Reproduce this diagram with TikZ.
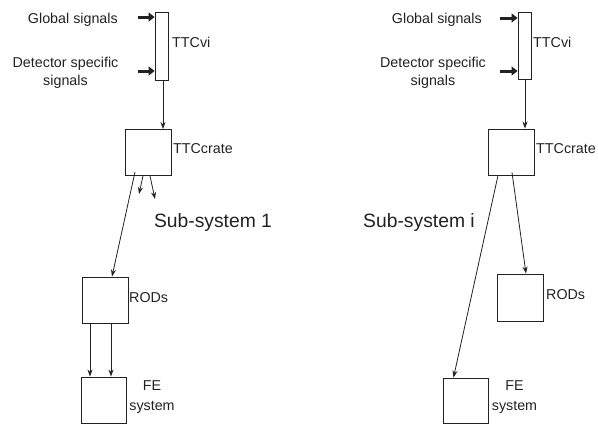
\documentclass[tikz,border=0pt]{standalone}
\usepackage{fontspec}
\setmainfont{Liberation Sans}
\usetikzlibrary{arrows.meta}
\definecolor{ink}{HTML}{222222}
\begin{document}
\begin{tikzpicture}[x=1pt,y=-1pt,color=ink,
  box/.style={draw,line width=0.9pt,inner sep=0pt,minimum width=46pt,minimum height=46pt},
  tallbox/.style={draw,line width=0.9pt,inner sep=0pt,minimum width=13pt,minimum height=68pt},
  lbl/.style={inner sep=0pt,font=\fontsize{14.3}{18}\selectfont},
  big/.style={inner sep=0pt,font=\fontsize{19.3}{23}\selectfont},
  conn/.style={line width=0.8pt,-{Stealth[length=7pt,width=5pt]}},
  inarrow/.style={line width=3pt,-{Triangle[length=6pt,width=9pt]}}]
\useasboundingbox (0,0) rectangle (598,424);

% ---------------- left sub-system ----------------
\node[tallbox] (ttcviL) at (161.5,46) {};
\node[box] (crateL) at (148,152.5) {};
\node[box] (rodsL) at (105,300) {};
\node[box,minimum width=45pt] (feL) at (103.5,400) {};

\node[lbl,anchor=east] (gsL) at (118,20) {Global signals};
\node[lbl,align=center] (dsL) at (65.5,73) {Detector specific\\signals};
\node[lbl,anchor=west] (tvL) at (172,42) {TTCvi};
\node[lbl,anchor=west] (tcL) at (173,149) {TTCcrate};
\node[lbl,anchor=west] (rdL) at (129,298) {RODs};
\node[lbl,align=center,font=\fontsize{14.3}{20}\selectfont] (fsL) at (152,397) {FE\\system};
\node[big] (ssL) at (213,223) {Sub-system 1};

\coordinate (gsinL) at (138,17);
\coordinate (dsinL) at (138,71);
\draw[inarrow] (gsinL) -- (gsinL -| ttcviL.west);
\draw[inarrow] (dsinL) -- (dsinL -| ttcviL.west);

\draw[conn] ([xshift=1.5pt]ttcviL.south) -- ([xshift=1.5pt]ttcviL.south |- crateL.north);
\coordinate (outL1) at (139,194);
\coordinate (outL2) at (155,199);
\draw[conn] ([xshift=-5pt]crateL.south) -- (outL1);
\draw[conn] ([xshift=2pt]crateL.south) -- (outL2);
\draw[conn] ([xshift=-13pt,yshift=4pt]crateL.south) -- ([xshift=7pt]rodsL.north);
\draw[conn] ([xshift=-15pt]rodsL.south) -- ([xshift=-15pt]rodsL.south |- feL.north);
\draw[conn] ([xshift=6pt]rodsL.south) -- ([xshift=6pt]rodsL.south |- feL.north);

% ---------------- right sub-system ----------------
\node[tallbox,minimum height=67pt] (ttcviR) at (524.5,45.5) {};
\node[box] (crateR) at (511,152) {};
\node[box,minimum height=47pt] (rodsR) at (520,297.5) {};
\node[box,minimum width=45pt,minimum height=45pt] (feR) at (465.5,400.5) {};

\node[lbl,anchor=east] (gsR) at (482,20) {Global signals};
\node[lbl,align=center] (dsR) at (433,73) {Detector specific\\signals};
\node[lbl,anchor=west] (tvR) at (533,42) {TTCvi};
\node[lbl,anchor=west] (tcR) at (536,149) {TTCcrate};
\node[lbl,anchor=west] (rdR) at (546,295) {RODs};
\node[lbl,align=center,font=\fontsize{14.3}{20}\selectfont] (fsR) at (514.5,397) {FE\\system};
\node[big] (ssR) at (419,223) {Sub-system i};

\coordinate (gsinR) at (500,18);
\coordinate (dsinR) at (500,71);
\draw[inarrow] (gsinR) -- (gsinR -| ttcviR.west);
\draw[inarrow] (dsinR) -- (dsinR -| ttcviR.west);

\draw[conn] ([xshift=0.5pt]ttcviR.south) -- ([xshift=0.5pt]ttcviR.south |- crateR.north);
\draw[conn] ([xshift=-13pt]crateR.south) -- ([xshift=-12pt]feR.north);
\draw[conn] ([xshift=1pt,yshift=3pt]crateR.south) -- ([xshift=6pt]rodsR.north);
\end{tikzpicture}
\end{document}
